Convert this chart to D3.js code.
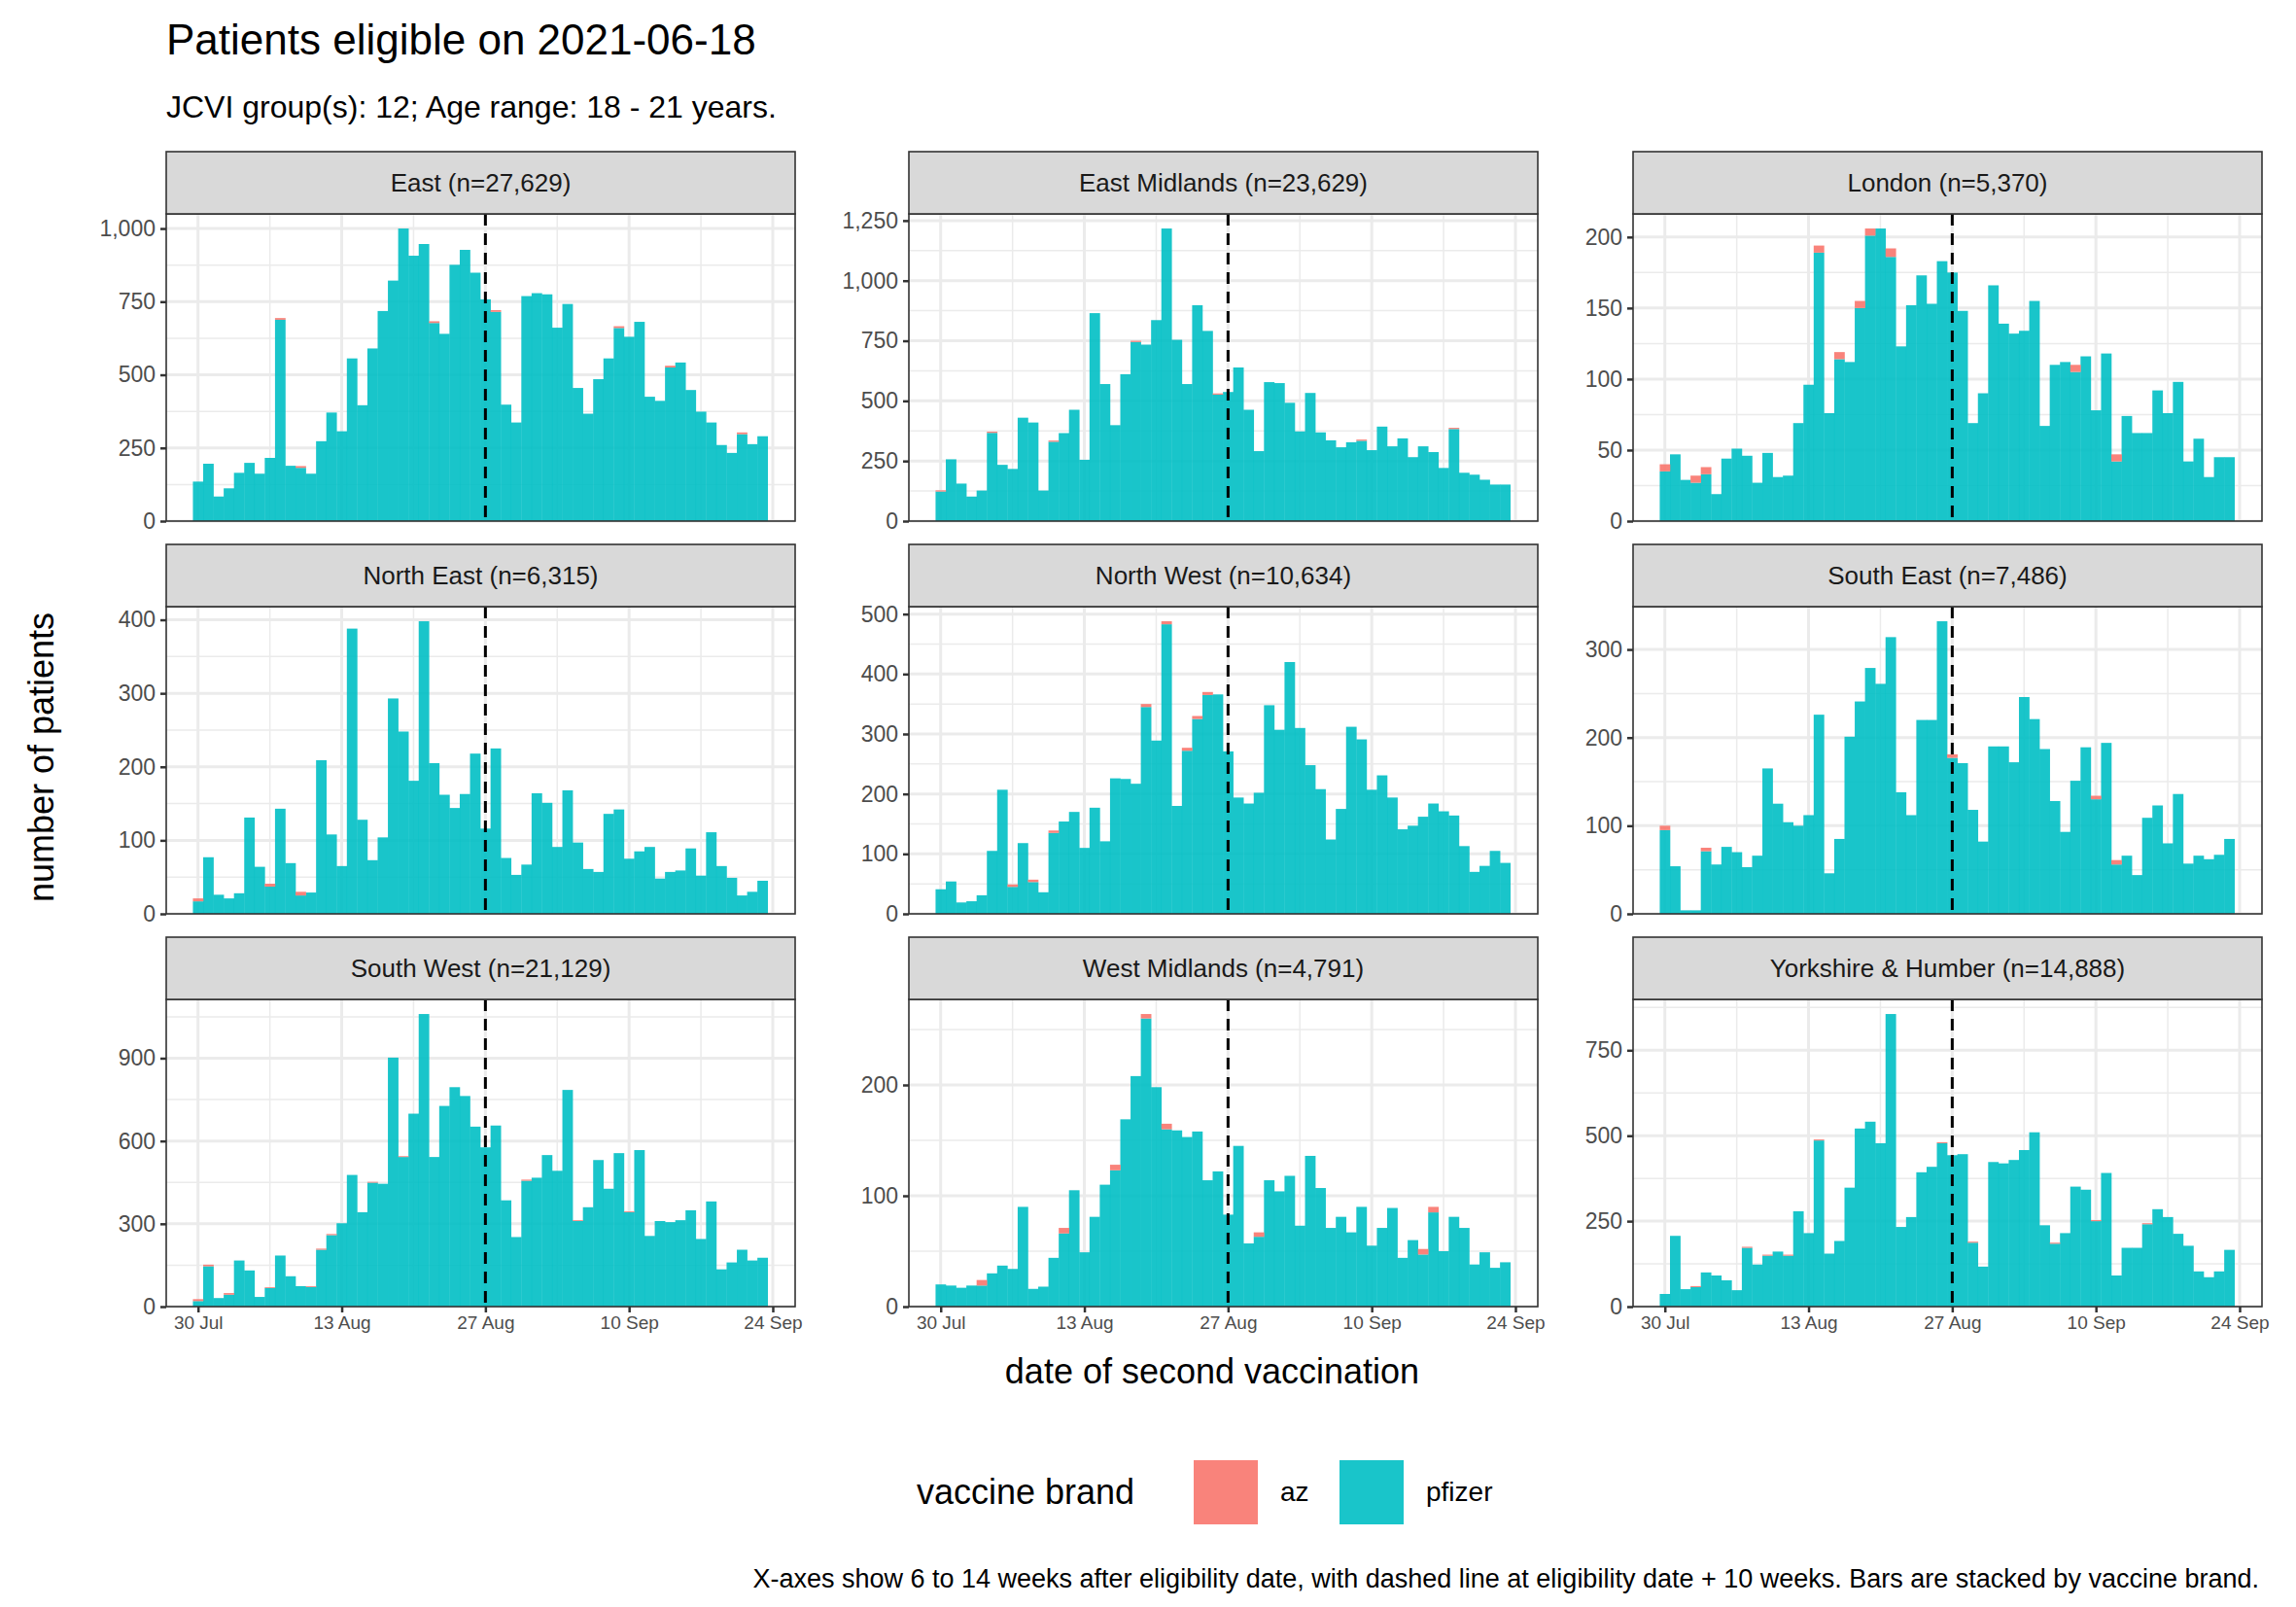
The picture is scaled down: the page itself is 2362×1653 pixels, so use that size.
<!DOCTYPE html>
<html>
<head>
<meta charset="utf-8">
<script src="https://cdn.jsdelivr.net/npm/d3@7"></script>
<style>
  body { margin: 0; background: #fff; }
  text { font-family: "Liberation Sans", Arial, sans-serif; }
</style>
</head>
<body>
<div id="chart"></div>
<script>
// regions, in facet order
var regions = ['East', 'East Midlands', 'London', 'North East', 'North West',
               'South East', 'South West', 'West Midlands', 'Yorkshire & Humber'];
var regionN = ['27,629', '23,629', '5,370', '6,315', '10,634', '7,486', '21,129', '4,791', '14,888'];
var yTickStep = [250, 250, 50, 100, 100, 100, 300, 100, 250];

// daily counts, 30 Jul .. 23 Sep (56 days)
var pfizer = [
  [135,196,84,112,165,199,162,216,688,189,182,162,273,371,307,556,396,590,718,822,1000,907,947,677,640,876,927,849,758,715,398,337,769,779,775,661,742,455,367,485,556,660,630,681,425,411,525,542,448,374,337,260,233,297,263,290],
  [123,257,156,102,127,367,234,217,430,410,127,330,366,463,255,865,570,399,611,745,734,836,1217,754,570,898,791,526,537,639,463,291,578,574,492,373,533,369,336,307,328,334,295,393,311,344,266,311,287,221,383,201,193,172,152,152],
  [35,47,29,27,33,19,44,51,46,27,48,31,32,69,96,189,76,114,112,150,201,206,186,123,152,173,153,183,175,148,69,90,166,139,132,134,155,67,110,112,105,116,78,118,42,74,62,62,92,76,98,42,58,31,45,45],
  [17,77,26,21,28,131,64,37,143,69,25,29,209,108,65,388,128,73,104,293,248,181,398,205,162,144,163,218,116,225,76,53,67,164,151,91,168,97,61,57,136,142,75,85,91,48,57,59,89,52,111,65,49,25,30,45],
  [41,54,19,21,31,105,207,45,118,53,36,135,154,170,110,177,121,226,225,217,345,289,483,180,272,325,365,366,271,194,184,202,348,307,420,310,248,208,124,175,312,291,207,231,194,141,147,162,184,171,164,113,70,80,105,85],
  [95,54,4,4,71,56,76,70,53,66,165,125,104,100,112,226,46,85,201,241,279,261,314,138,112,220,220,332,177,171,118,82,190,190,172,246,221,187,128,93,151,189,130,194,56,66,44,109,123,80,136,57,66,62,67,85],
  [20,146,31,43,167,131,35,67,185,110,74,71,206,259,302,477,342,449,445,902,542,699,1060,542,727,795,763,652,577,656,385,252,456,467,549,492,785,310,360,531,427,556,342,567,256,310,306,313,349,245,381,135,160,206,167,177],
  [20,19,17,19,19,30,37,34,90,16,18,44,66,105,49,81,110,123,169,208,260,198,160,159,153,158,114,122,83,145,57,63,114,104,118,73,136,107,71,81,67,90,55,71,89,44,60,47,85,50,81,71,38,49,35,40],
  [37,207,51,57,100,91,77,48,172,123,149,161,149,279,215,486,155,192,348,521,541,478,856,233,262,393,409,478,443,446,187,117,423,419,429,458,510,238,184,215,351,342,250,391,91,172,172,241,285,262,213,178,103,86,103,166]
];
var az = [
  [0,0,0,0,0,0,0,0,6,0,6,0,0,0,0,0,0,0,0,0,0,0,0,6,0,0,0,0,0,6,0,0,0,0,0,0,0,0,0,0,0,6,0,0,0,0,6,0,0,0,0,0,0,6,0,0],
  [5,0,0,0,0,5,0,0,0,0,0,5,0,0,0,0,0,0,0,5,0,0,0,0,0,0,0,5,0,0,0,0,0,0,0,0,0,0,0,0,0,5,0,0,0,0,0,0,0,0,5,0,0,0,0,0],
  [5,0,0,5,5,0,0,0,0,0,0,0,0,0,0,5,0,5,0,5,5,0,6,0,0,0,0,0,0,0,0,0,0,0,0,0,0,0,0,0,5,0,0,0,5,0,0,0,0,0,0,0,0,0,0,0],
  [4,0,0,0,0,0,0,4,0,0,5,0,0,0,0,0,0,0,0,0,0,0,0,0,0,0,0,0,0,0,0,0,0,0,0,0,0,0,0,0,0,0,0,0,0,0,0,0,0,0,0,0,0,0,0,0],
  [0,0,0,0,0,0,0,4,0,4,0,4,0,0,0,0,0,0,0,0,5,0,5,0,5,5,5,0,0,0,0,0,0,0,0,0,0,0,0,0,0,0,0,0,0,0,0,0,0,0,0,0,0,0,0,0],
  [5,0,0,0,4,0,0,0,0,0,0,0,0,0,0,0,0,0,0,0,0,0,0,0,0,0,0,0,4,0,0,0,0,0,0,0,0,0,0,0,0,0,4,0,5,0,0,0,0,0,0,0,0,0,0,0],
  [7,6,0,6,0,0,0,3,0,0,0,3,4,4,0,0,0,3,0,0,3,0,0,0,0,0,0,0,0,0,0,0,4,0,0,0,0,3,0,0,0,0,3,0,0,0,0,0,0,0,0,0,0,0,0,0],
  [0,0,0,0,5,0,0,0,0,0,0,0,5,0,0,0,0,5,0,0,4,0,5,0,0,0,0,0,0,0,0,4,0,0,0,0,0,0,0,0,0,0,0,0,0,0,0,5,5,0,0,0,0,0,0,0],
  [0,0,0,3,0,0,0,0,3,0,3,0,3,0,0,3,0,0,0,0,0,0,0,0,0,0,0,3,0,0,3,0,0,0,0,0,0,0,3,0,0,0,3,0,0,0,0,3,0,0,0,0,0,0,0,0]
];
var xTickDays = [0, 14, 28, 42, 56];
var xTickLabels = ['30 Jul', '13 Aug', '27 Aug', '10 Sep', '24 Sep'];
var dashedDay = 28;
var brands = ['az', 'pfizer'];
var brandColours = ['#F8766D', '#00BFC4'];

var W = 2362, H = 1653;
var colX = [171, 935, 1680], panelW = 647;
var rowY = [220, 624, 1028], panelH = 316, stripH = 64;

var svg = d3.select('#chart').append('svg').attr('width', W).attr('height', H);
svg.append('rect').attr('width', W).attr('height', H).attr('fill', '#fff');

var x = d3.scaleLinear().domain([-3.1, 58.18]).range([0, panelW]);

regions.forEach(function (name, i) {
  var col = i % 3, row = Math.floor(i / 3);
  var g = svg.append('g').attr('transform', 'translate(' + colX[col] + ',' + rowY[row] + ')');
  var tot = pfizer[i].map(function (v, k) { return v + az[i][k]; });
  var y = d3.scaleLinear().domain([0, d3.max(tot) * 1.05]).range([panelH, 0]);
  var step = yTickStep[i];
  var ticks = d3.range(0, y.domain()[1], step);
  var minor = d3.range(step / 2, y.domain()[1], step);

  // grid
  minor.forEach(function (v) {
    g.append('line').attr('x1', 0).attr('x2', panelW).attr('y1', y(v)).attr('y2', y(v))
      .attr('stroke', '#ebebeb').attr('stroke-width', 1.5);
  });
  [7, 21, 35, 49].forEach(function (d) {
    g.append('line').attr('x1', x(d)).attr('x2', x(d)).attr('y1', 0).attr('y2', panelH)
      .attr('stroke', '#ebebeb').attr('stroke-width', 1.5);
  });
  ticks.forEach(function (v) {
    g.append('line').attr('x1', 0).attr('x2', panelW).attr('y1', y(v)).attr('y2', y(v))
      .attr('stroke', '#ebebeb').attr('stroke-width', 3);
  });
  xTickDays.forEach(function (d) {
    g.append('line').attr('x1', x(d)).attr('x2', x(d)).attr('y1', 0).attr('y2', panelH)
      .attr('stroke', '#ebebeb').attr('stroke-width', 3);
  });

  // bars: pfizer at bottom, az stacked on top
  g.selectAll('rect.pf').data(pfizer[i]).enter().append('rect')
    .attr('x', function (d, k) { return x(k - 0.5); })
    .attr('width', x(1) - x(0) + 0.3)
    .attr('y', function (d) { return y(d); })
    .attr('height', function (d) { return y(0) - y(d); })
    .attr('fill', brandColours[1]).attr('fill-opacity', 0.9);
  g.selectAll('rect.az').data(az[i]).enter().append('rect')
    .attr('x', function (d, k) { return x(k - 0.5); })
    .attr('width', x(1) - x(0) + 0.3)
    .attr('y', function (d, k) { return y(pfizer[i][k] + d); })
    .attr('height', function (d) { return y(0) - y(d); })
    .attr('fill', brandColours[0]).attr('fill-opacity', 0.9);

  // dashed line
  g.append('line').attr('x1', x(dashedDay)).attr('x2', x(dashedDay)).attr('y1', 0).attr('y2', panelH)
    .attr('stroke', '#000').attr('stroke-width', 3).attr('stroke-dasharray', '12,8');

  // border
  g.append('rect').attr('width', panelW).attr('height', panelH)
    .attr('fill', 'none').attr('stroke', '#333').attr('stroke-width', 1.6);

  // strip
  g.append('rect').attr('y', -stripH).attr('width', panelW).attr('height', stripH)
    .attr('fill', '#d9d9d9').attr('stroke', '#333').attr('stroke-width', 1.6);
  g.append('text').attr('x', panelW / 2).attr('y', -stripH / 2 + 9)
    .attr('text-anchor', 'middle').attr('font-size', 26).attr('fill', '#1a1a1a')
    .text(name + ' (n=' + regionN[i] + ')');

  // y axis
  var ya = g.append('g').call(d3.axisLeft(y).tickValues(ticks).tickSize(6).tickPadding(5));
  ya.select('.domain').remove();
  ya.selectAll('line').attr('stroke', '#333').attr('stroke-width', 2.5);
  ya.selectAll('text').attr('font-size', 23).attr('fill', '#4d4d4d')
    .style('font-family', '"Liberation Sans", Arial, sans-serif');

  if (row === 2) {
    var xa = g.append('g').attr('transform', 'translate(0,' + panelH + ')')
      .call(d3.axisBottom(x).tickValues(xTickDays).tickSize(6).tickPadding(4)
        .tickFormat(function (d, k) { return xTickLabels[k]; }));
    xa.select('.domain').remove();
    xa.selectAll('line').attr('stroke', '#333').attr('stroke-width', 2.5);
    xa.selectAll('text').attr('font-size', 19).attr('fill', '#4d4d4d')
      .style('font-family', '"Liberation Sans", Arial, sans-serif');
  }
});

// titles
svg.append('text').attr('x', 171).attr('y', 56).attr('font-size', 44).attr('fill', '#000')
  .text('Patients eligible on 2021-06-18');
svg.append('text').attr('x', 171).attr('y', 121).attr('font-size', 32).attr('fill', '#000')
  .text('JCVI group(s): 12; Age range: 18 - 21 years.');
svg.append('text').attr('x', 1247).attr('y', 1423).attr('text-anchor', 'middle')
  .attr('font-size', 36).attr('fill', '#000').text('date of second vaccination');
svg.append('text').attr('transform', 'translate(55,779) rotate(-90)').attr('text-anchor', 'middle')
  .attr('font-size', 36).attr('fill', '#000').text('number of patients');

// legend
svg.append('text').attr('x', 943).attr('y', 1547).attr('font-size', 36).attr('fill', '#000')
  .text('vaccine brand');
var legX = [1228, 1378];
brands.forEach(function (b, k) {
  svg.append('rect').attr('x', legX[k]).attr('y', 1502).attr('width', 66).attr('height', 66)
    .attr('fill', brandColours[k]).attr('fill-opacity', 0.9);
  svg.append('text').attr('x', legX[k] + 89).attr('y', 1544).attr('font-size', 28)
    .attr('fill', '#000').text(b);
});

svg.append('text').attr('x', 2324).attr('y', 1633).attr('text-anchor', 'end')
  .attr('font-size', 27).attr('fill', '#000')
  .text('X-axes show 6 to 14 weeks after eligibility date, with dashed line at eligibility date + 10 weeks. Bars are stacked by vaccine brand.');
</script>
</body>
</html>
